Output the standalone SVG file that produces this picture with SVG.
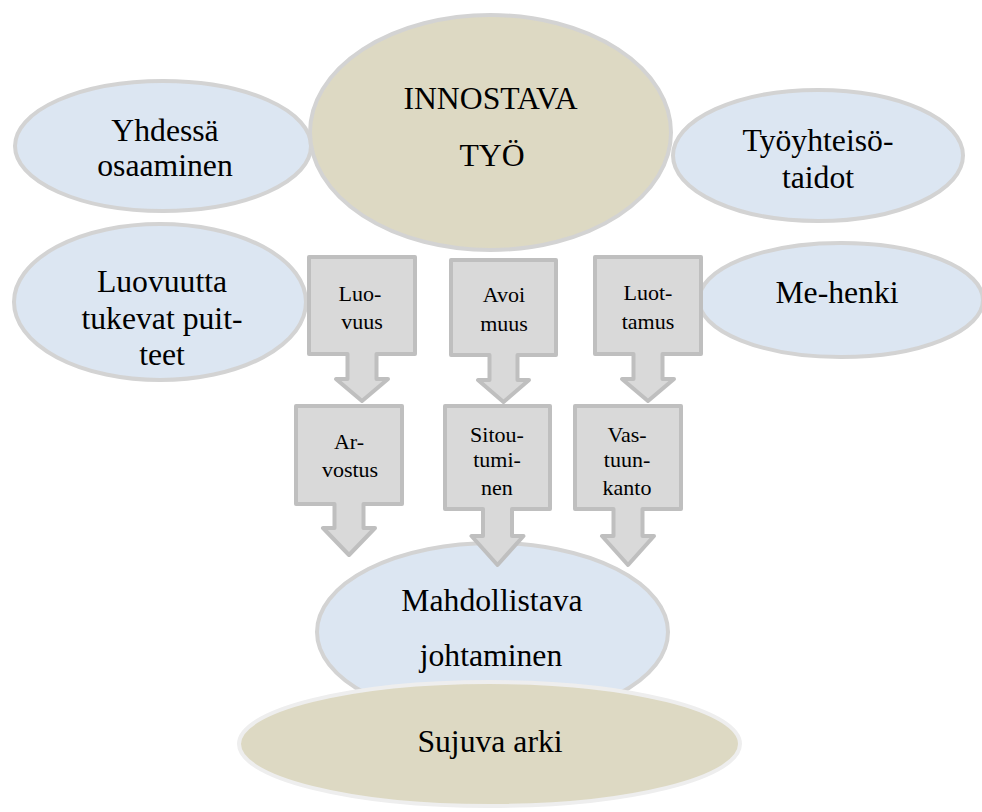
<svg xmlns="http://www.w3.org/2000/svg" width="982" height="812" viewBox="0 0 982 812">
<style>
.bg{fill:#ffffff}
.blue{fill:#dce6f2;stroke:#d3d3d3;stroke-width:4}
.beige{fill:#ddd9c3;stroke:#d3d3d3;stroke-width:4}
.beige2{fill:#ddd9c3;stroke:#eeeeee;stroke-width:4}
.arr{fill:#d9d9d9;stroke:#bfbfbf;stroke-width:4;stroke-linejoin:round}
.t{font-family:"Liberation Serif","Times New Roman",serif;font-size:31.7px;fill:#000;text-anchor:middle}
.s{font-family:"Liberation Serif","Times New Roman",serif;font-size:22px;fill:#000;text-anchor:middle}
</style>
<rect class="bg" x="0" y="0" width="982" height="812"/>

<g id="yhdessa">
<ellipse class="blue" cx="163" cy="146" rx="148" ry="65"/>
<text class="t" x="165" y="141">Yhdessä</text>
<text class="t" x="165" y="176">osaaminen</text>
</g>

<g id="innostava">
<ellipse class="beige" cx="490.5" cy="132.5" rx="180.5" ry="117.5"/>
<text class="t" x="490.5" y="109">INNOSTAVA</text>
<text class="t" x="492" y="166">TYÖ</text>
</g>

<g id="tyoyhteiso">
<ellipse class="blue" cx="818" cy="155.5" rx="145" ry="65.5"/>
<text class="t" x="818" y="151">Työyhteisö-</text>
<text class="t" x="818" y="188">taidot</text>
</g>

<g id="luovuutta">
<ellipse class="blue" cx="160" cy="302" rx="146" ry="78"/>
<text class="t" x="162" y="292">Luovuutta</text>
<text class="t" x="162" y="329">tukevat puit-</text>
<text class="t" x="162" y="365">teet</text>
</g>

<g id="mehenki">
<ellipse class="blue" cx="841" cy="300" rx="142" ry="57"/>
<text class="t" x="837" y="303">Me-henki</text>
</g>

<g id="mahdollistava">
<ellipse class="blue" cx="492.5" cy="632" rx="175.5" ry="89"/>
<text class="t" x="492" y="611">Mahdollistava</text>
<text class="t" x="491" y="666">johtaminen</text>
</g>

<g id="arrows">
<g id="luovuus">
<path class="arr" d="M309,257 H415 V354 H376.5 V379 H388 L362,401 L336,379 H347.5 V354 H309 Z"/>
<text class="s" x="360" y="301">Luo-</text>
<text class="s" x="362" y="329">vuus</text>
</g>
<g id="avoimuus">
<path class="arr" d="M451,260 H556 V355 H517.5 V380 H529 L503.5,402 L478,380 H489.5 V355 H451 Z"/>
<text class="s" x="504" y="302">Avoi</text>
<text class="s" x="504" y="331">muus</text>
</g>
<g id="luottamus">
<path class="arr" d="M595,257 H701 V354 H662.5 V379 H674 L648,401 L622,379 H633.5 V354 H595 Z"/>
<text class="s" x="648" y="300">Luot-</text>
<text class="s" x="648" y="329">tamus</text>
</g>
<g id="arvostus">
<path class="arr" d="M296,406 H402 V504 H363.5 V528 H375 L349,555 L323,528 H334.5 V504 H296 Z"/>
<text class="s" x="349" y="449">Ar-</text>
<text class="s" x="350" y="477">vostus</text>
</g>
<g id="sitoutuminen">
<path class="arr" d="M445,406 H550 V509 H512 V536 H523.5 L497.5,565 L471.5,536 H483 V509 H445 Z"/>
<text class="s" x="497" y="442">Sitou-</text>
<text class="s" x="497" y="467">tumi-</text>
<text class="s" x="497" y="495">nen</text>
</g>
<g id="vastuunkanto">
<path class="arr" d="M575,406 H681 V509 H642.5 V536 H654 L628,565 L602,536 H613.5 V509 H575 Z"/>
<text class="s" x="627" y="442">Vas-</text>
<text class="s" x="627" y="467">tuun-</text>
<text class="s" x="627" y="495">kanto</text>
</g>
</g>

<g id="sujuva">
<ellipse class="beige2" cx="489.5" cy="744" rx="250.5" ry="62"/>
<text class="t" x="490" y="752">Sujuva arki</text>
</g>
</svg>
